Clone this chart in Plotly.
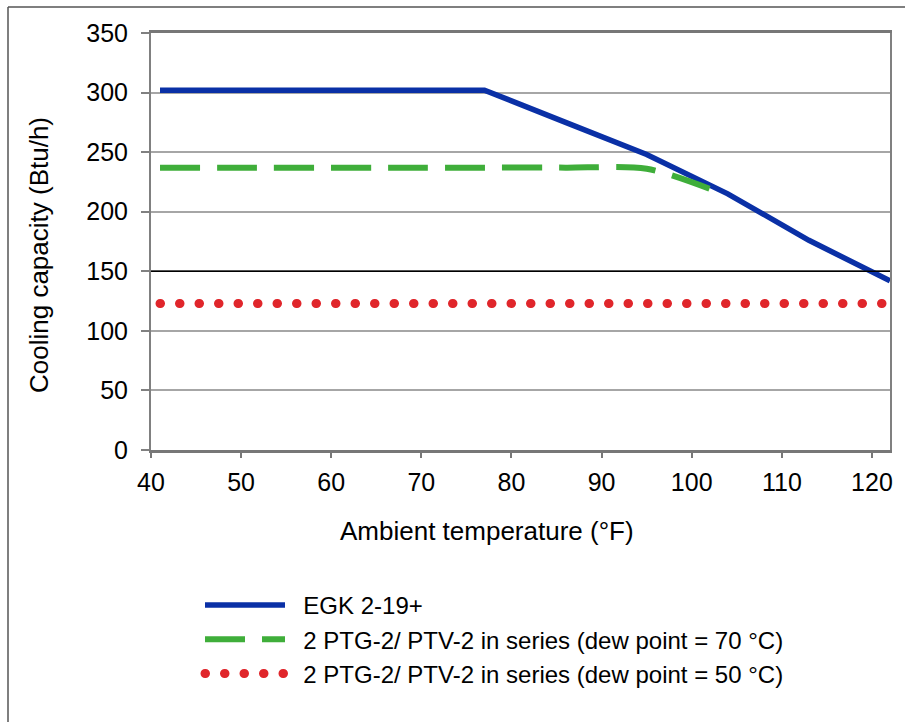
import plotly.graph_objects as go

# Data (ambient temperature in °F, cooling capacity in Btu/h)
egk_x = [41, 50, 59, 68, 77, 86, 95, 104, 113, 122]
egk_y = [302, 302, 302, 302, 302, 275, 248, 215, 176, 142]

ptg70_x = [41, 50, 59, 68, 77, 86, 95, 102.4]
ptg70_y = [237, 237, 237, 237, 237, 237, 236, 218]

ptg50_x = [41, 50, 59, 68, 77, 86, 95, 104, 113, 122]
ptg50_y = [123, 123, 123, 123, 123, 123, 123, 123, 123, 123]

names = ["EGK 2-19+",
         "2 PTG-2/ PTV-2 in series (dew point = 70 °C)",
         "2 PTG-2/ PTV-2 in series (dew point = 50 °C)"]

x_ticks = [40, 50, 60, 70, 80, 90, 100, 110, 120]
y_ticks = [0, 50, 100, 150, 200, 250, 300, 350]

FONT = "Liberation Sans, Arial, sans-serif"
GAP = "\u00a0\u00a0"

fig = go.Figure()
fig.add_trace(go.Scatter(x=egk_x, y=egk_y, mode="lines", name=GAP + names[0],
                         line=dict(color="#0a30a6", width=5.5)))
fig.add_trace(go.Scatter(x=ptg70_x, y=ptg70_y, mode="lines", name=GAP + names[1],
                         line=dict(color="#3fae3a", width=6, dash="40px,17px",
                                   shape="spline", smoothing=0.8)))
fig.add_trace(go.Scatter(x=ptg50_x, y=ptg50_y, mode="lines", name=GAP + names[2],
                         line=dict(color="#e0262b", width=9, dash="0.5px,19px")))

L, R, T, B = 151, 890, 33, 450
W, H = 905, 722
pw, ph = R - L, B - T

def px2paper_x(p):
    return (p - L) / pw

def px2paper_y(p):
    return (B - p) / ph

shapes = [
    # darker 150 gridline
    dict(type="line", xref="paper", yref="y", x0=0, x1=1, y0=150, y1=150,
         line=dict(color="#000000", width=1.5), layer="above"),
    # outer frame (left and top)
    dict(type="line", xref="paper", yref="paper",
         x0=px2paper_x(8), x1=px2paper_x(8), y0=px2paper_y(7), y1=px2paper_y(H + 5),
         line=dict(color="#555555", width=1.5)),
    dict(type="line", xref="paper", yref="paper",
         x0=px2paper_x(8), x1=px2paper_x(W + 5), y0=px2paper_y(7), y1=px2paper_y(7),
         line=dict(color="#555555", width=1.5)),
]

annotations = [
    dict(text="Ambient temperature (°F)", xref="paper", yref="paper",
         x=px2paper_x(487), y=px2paper_y(531), xanchor="center", yanchor="middle",
         showarrow=False, font=dict(family=FONT, size=26, color="#000000")),
    dict(text="Cooling capacity (Btu/h)", xref="paper", yref="paper",
         x=px2paper_x(39), y=px2paper_y(255), xanchor="center", yanchor="middle",
         textangle=-90, showarrow=False, font=dict(family=FONT, size=26, color="#000000")),
]

fig.update_layout(
    width=W, height=H,
    margin=dict(l=L, r=W - R, t=T, b=H - B),
    paper_bgcolor="white", plot_bgcolor="white",
    font=dict(family=FONT, size=25, color="#000000"),
    showlegend=True,
    legend=dict(x=px2paper_x(200), y=px2paper_y(583), xanchor="left", yanchor="top",
                font=dict(family=FONT, size=24, color="#000000"),
                itemwidth=80, bgcolor="rgba(0,0,0,0)", tracegroupgap=0),
    shapes=shapes, annotations=annotations,
)

fig.update_xaxes(range=[40, 122], tickvals=x_ticks, ticktext=[str(v) for v in x_ticks],
                 showgrid=False, zeroline=False,
                 showline=True, linecolor="#777777", linewidth=2.5, mirror=True,
                 ticks="outside", ticklen=5, tickwidth=1.5, tickcolor="#777777",
                 ticklabelstandoff=3,
                 tickfont=dict(family=FONT, size=25, color="#000000"))
fig.update_yaxes(range=[0, 350], tickvals=y_ticks, ticktext=[str(v) for v in y_ticks],
                 showgrid=True, gridcolor="#a6a6a6", gridwidth=1.5, zeroline=False,
                 showline=True, linecolor="#808080", linewidth=2, mirror=True,
                 ticks="outside", ticklen=8, tickwidth=1.5, tickcolor="#808080",
                 ticklabelstandoff=8,
                 tickfont=dict(family=FONT, size=25, color="#000000"))

post = """
document.body.style.margin = '0';
document.body.style.padding = '0';
var s = document.createElement('style');
s.textContent = 'body{margin:0;padding:0;} .scatterlayer .trace:nth-of-type(3) path.js-line, .legend .traces:nth-of-type(3) path.js-line { stroke-linecap: round; }';
document.head.appendChild(s);
"""

fig.write_html("out.html", post_script=post, config={"displayModeBar": False})
